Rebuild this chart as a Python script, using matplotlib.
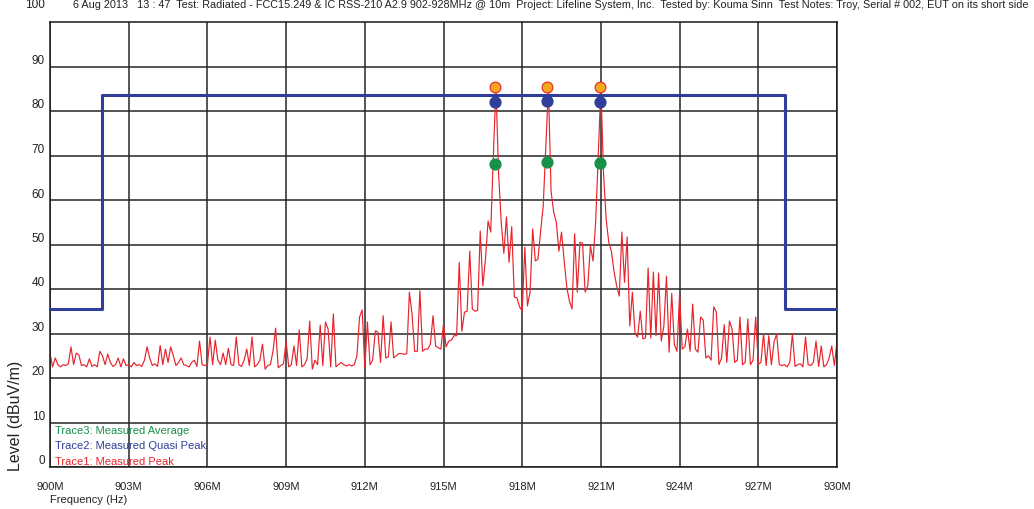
import numpy as np
import matplotlib
matplotlib.use("Agg")
import matplotlib.pyplot as plt
import matplotlib.transforms as mtransforms

plt.rcParams['font.family'] = ['Liberation Sans', 'DejaVu Sans']

# ---------------- data ----------------
title_text = ("6 Aug 2013   13 : 47  Test: Radiated - FCC15.249 & IC RSS-210 A2.9 902-928MHz @ 10m  "
              "Project: Lifeline System, Inc.  Tested by: Kouma Sinn  Test Notes: Troy, Serial # 002, EUT on its short side")

freq_start_mhz = 900.0
freq_stop_mhz = 930.0

# Trace1: measured peak (dBuV/m), sweep points every 0.1 MHz from 900 to 930 MHz
peak_trace = [
    25.5, 22.5, 24.5, 23.0, 22.5, 23.0, 22.8, 23.2, 27.0, 23.0,   # 900
    25.6, 25.2, 22.8, 23.0, 22.5, 24.3, 22.6, 23.0, 22.5, 26.0,   # 901
    25.0, 23.0, 25.4, 23.5, 22.6, 23.0, 24.5, 22.5, 24.3, 22.8,   # 902
    23.0, 22.5, 23.5, 22.8, 23.0, 22.6, 24.0, 27.0, 24.5, 22.8,   # 903
    23.2, 22.6, 27.3, 23.0, 26.5, 23.5, 27.0, 25.0, 22.8, 23.5,   # 904
    24.5, 23.0, 22.8, 22.5, 23.5, 24.0, 22.6, 28.3, 23.0, 22.8,   # 905
    23.0, 29.2, 23.0, 28.5, 24.0, 23.0, 25.6, 23.0, 26.7, 23.0,   # 906
    22.8, 29.2, 23.0, 22.6, 24.0, 26.5, 22.8, 29.2, 22.5, 23.0,   # 907
    24.0, 27.6, 22.0, 22.8, 23.0, 26.0, 31.2, 22.3, 22.8, 23.2,   # 908
    28.3, 22.5, 23.0, 27.2, 22.8, 30.8, 22.5, 23.0, 24.3, 32.8,   # 909
    22.0, 24.0, 23.0, 31.9, 22.8, 32.6, 31.0, 22.5, 34.4, 22.5,   # 910
    23.0, 23.5, 23.0, 22.7, 23.0, 22.7, 23.0, 25.0, 33.7, 35.3,   # 911
    22.3, 32.6, 23.0, 24.0, 30.6, 30.3, 23.5, 34.0, 24.5, 24.8,   # 912
    32.6, 24.5, 25.0, 25.5, 25.5, 25.3, 25.5, 39.3, 34.4, 26.0,   # 913
    26.0, 39.6, 26.0, 26.5, 26.5, 27.6, 34.0, 27.2, 26.8, 26.5,   # 914
    32.1, 27.0, 28.3, 28.5, 29.5, 29.5, 46.0, 30.5, 34.8, 35.0,   # 915
    48.5, 35.5, 35.0, 35.2, 53.0, 40.7, 46.7, 55.3, 52.8, 70.0,   # 916
    85.3, 66.0, 55.0, 48.0, 56.2, 46.0, 54.0, 38.2, 38.0, 36.0,   # 917
    35.0, 49.4, 36.2, 39.3, 53.5, 46.3, 46.7, 52.8, 58.6, 72.0,   # 918
    85.3, 62.0, 57.3, 55.0, 48.5, 52.8, 46.3, 40.4, 37.3, 35.5,   # 919
    52.4, 39.3, 50.5, 50.3, 39.3, 40.7, 49.7, 46.3, 55.0, 70.0,   # 920
    85.4, 66.0, 55.7, 50.5, 48.5, 44.0, 40.7, 38.4, 52.8, 41.5,   # 921
    51.7, 31.7, 39.3, 30.0, 29.2, 35.0, 28.8, 29.0, 44.7, 29.0,   # 922
    43.8, 29.5, 43.6, 28.3, 31.7, 42.9, 25.8, 39.0, 27.5, 26.0,   # 923
    39.0, 26.5, 27.0, 31.0, 26.0, 36.6, 26.5, 25.8, 33.7, 33.0,   # 924
    24.5, 25.0, 24.0, 36.0, 34.8, 23.0, 24.5, 32.0, 23.5, 32.8,   # 925
    31.0, 23.5, 24.0, 33.7, 23.0, 23.5, 33.3, 23.0, 24.0, 33.7,   # 926
    23.1, 23.5, 30.0, 22.8, 29.5, 23.0, 28.1, 29.9, 23.0, 22.8,   # 927
    23.0, 22.5, 23.5, 29.9, 22.6, 23.0, 23.2, 22.5, 29.2, 23.0,   # 928
    22.8, 23.5, 28.3, 22.6, 27.2, 22.5, 23.0, 24.5, 27.2, 22.8,   # 929
    28.3,                                                         # 930
]

# Limit line (blue)
limit_freq = [900.0, 902.0, 928.0, 930.0]
limit_level = [35.5, 83.5, 35.5, 35.5]

# Markers at the three carriers
marker_freq = [916.95, 918.94, 920.95]
marker_peak = [85.3, 85.3, 85.4]
marker_qp = [82.1, 82.3, 82.1]
marker_avg = [68.2, 68.6, 68.4]

x_ticks = [900, 903, 906, 909, 912, 915, 918, 921, 924, 927, 930]
x_tick_labels = ["900M", "903M", "906M", "909M", "912M", "915M", "918M",
                 "921M", "924M", "927M", "930M"]
y_ticks = [0, 10, 20, 30, 40, 50, 60, 70, 80, 90]
y_tick_labels = ["0", "10", "20", "30", "40", "50", "60", "70", "80", "90"]

legend_entries = ["Trace3: Measured Average", "Trace2: Measured Quasi Peak", "Trace1: Measured Peak"]

# ---------------- style ----------------
W, H = 1034, 510
C_RED = '#e8232b'
C_BLUE = '#2f3f99'
C_GREEN = '#17904a'
C_ORANGE = '#f5a81c'
C_GRID = '#262626'
FS = 8

fig = plt.figure(figsize=(W / 100, H / 100), dpi=100)
ax_l, ax_r, ax_t, ax_b = 50, 837, 23, 468
ax = fig.add_axes([ax_l / W, 1 - ax_b / H, (ax_r - ax_l) / W, (ax_b - ax_t) / H])
ax.set_xlim(freq_start_mhz, freq_stop_mhz)
ax.set_ylim(0, 100)

for s in ax.spines.values():
    s.set_color('#1a1a1a')
    s.set_linewidth(1.1)

ax.set_xticks(x_ticks)
ax.set_xticklabels(x_tick_labels, fontsize=FS, color='#222222')
ax.set_yticks(y_ticks)
ax.set_yticklabels([])
ax.tick_params(length=0, pad=11)
ax.tick_params(axis='x', pad=10)
ax.grid(True, color=C_GRID, linewidth=1.1, zorder=1)
ax.set_axisbelow(True)

# y tick labels shifted above their gridlines
off = mtransforms.ScaledTranslation(-0.05, 0.065, fig.dpi_scale_trans)
ytrans = mtransforms.blended_transform_factory(ax.transAxes, ax.transData) + off
for v, lab in zip(y_ticks, y_tick_labels):
    ax.text(0, v, lab, transform=ytrans, ha='right', va='center', fontsize=FS + 0.5, color='#222222')
fig.text(45 / W, 1 - 5 / H, "100", ha='right', va='center', fontsize=FS + 0.5, color='#222222')

# trace
freqs = np.linspace(freq_start_mhz, freq_stop_mhz, len(peak_trace))
ax.plot(freqs, peak_trace, color=C_RED, linewidth=0.85, zorder=2)

# limit line
ax.plot(limit_freq, limit_level, drawstyle='steps-post', color=C_BLUE, linewidth=2.2, zorder=3)

# markers
ax.plot(marker_freq, marker_avg, 'o', color=C_GREEN, markersize=7.8, zorder=4)
ax.plot(marker_freq, marker_qp, 'o', color=C_BLUE, markersize=7.8, zorder=4)
ax.plot(marker_freq, marker_peak, 'o', markerfacecolor=C_ORANGE, markeredgecolor=C_RED,
        markeredgewidth=0.8, markersize=7.8, zorder=5)

# legend texts
leg_colors = [C_GREEN, C_BLUE, C_RED]
leg_y = [431, 446, 462]
for txt, c, yy in zip(legend_entries, leg_colors, leg_y):
    fig.text(55 / W, 1 - yy / H, txt, ha='left', va='center', fontsize=FS, color=c)

# axis labels
fig.text(50 / W, 1 - 500 / H, "Frequency (Hz)", ha='left', va='center', fontsize=FS, color='#222222')
fig.text(16 / W, 1 - 471 / H, "Level (dBuV/m)", rotation=90, ha='center', va='bottom',
         fontsize=11.5, color='#222222')

# title, fitted to its width in the reference
t = fig.text(73 / W, 1 - 5 / H, title_text, ha='left', va='center', fontsize=FS, color='#222222')
fig.canvas.draw()
w = t.get_window_extent().width
target = 1030 - 73
t.set_fontsize(FS * target / w)

fig.savefig("out.png", dpi=100)
